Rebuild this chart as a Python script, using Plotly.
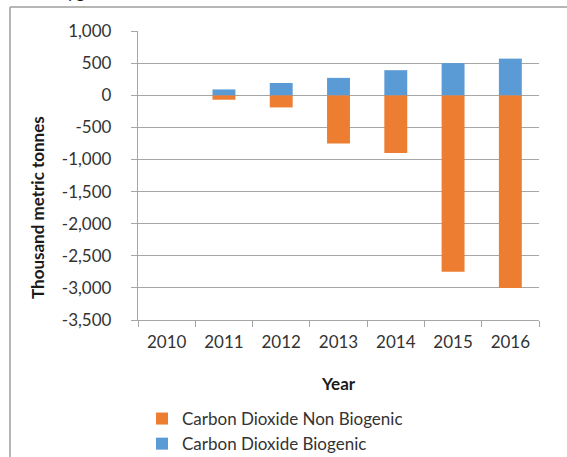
import plotly.graph_objects as go

years = ["2010", "2011", "2012", "2013", "2014", "2015", "2016"]
non_biogenic = [0, -70, -190, -750, -900, -2750, -3000]
biogenic = [0, 90, 190, 270, 390, 500, 570]
y_tickvals = [1000, 500, 0, -500, -1000, -1500, -2000, -2500, -3000, -3500]
y_ticktext = ["1,000", "500", "0", "-500", "-1,000", "-1,500", "-2,000", "-2,500", "-3,000", "-3,500"]

W, H = 567, 457
L, R, T, B = 138, 539, 31, 320
pw, ph = R - L, B - T

def px_x(x):
    return (x - L) / pw

def px_y(y):
    return (B - y) / ph

FONT = "Lato"
TXT = "#333333"
GRID = "#A6A6A6"

fig = go.Figure()
fig.add_trace(go.Bar(x=years, y=non_biogenic, name="Carbon Dioxide Non Biogenic",
                     marker=dict(color="#ED7D31", line=dict(width=0))))
fig.add_trace(go.Bar(x=years, y=biogenic, name="Carbon Dioxide Biogenic",
                     marker=dict(color="#5B9BD5", line=dict(width=0))))

fig.update_layout(
    width=W, height=H,
    margin=dict(l=L, r=W - R, t=T, b=H - B, pad=0, autoexpand=False),
    paper_bgcolor="white", plot_bgcolor="white",
    barmode="relative", bargap=0.6,
    font=dict(family=FONT, size=17, color=TXT),
    showlegend=True,
    legend=dict(orientation="v", x=px_x(142), y=px_y(401), xanchor="left", yanchor="top",
                font=dict(family=FONT, size=17, color=TXT), traceorder="normal",
                itemwidth=30, tracegroupgap=0, bgcolor="rgba(0,0,0,0)"),
    xaxis=dict(type="category", tickson="boundaries", ticks="outside", ticklen=6,
               tickcolor=GRID, showline=True, linecolor=GRID, linewidth=1.3,
               showgrid=False, tickfont=dict(family=FONT, size=17, color=TXT),
               ticklabelstandoff=6),
    yaxis=dict(range=[-3500, 1000], tickvals=y_tickvals, ticktext=y_ticktext,
               ticks="outside", ticklen=6, tickcolor=GRID, showline=True,
               linecolor=GRID, linewidth=1.3, showgrid=True, gridcolor=GRID, gridwidth=1.3,
               zeroline=True, zerolinecolor=GRID, zerolinewidth=1.3,
               tickfont=dict(family=FONT, size=17, color=TXT), ticklabelstandoff=16),
)

fig.add_annotation(text="<b>Thousand metric tonnes</b>", textangle=-90,
                   xref="paper", yref="paper", x=px_x(37), y=px_y(207),
                   xanchor="center", yanchor="middle", showarrow=False,
                   font=dict(family=FONT, size=17, color="#1a1a1a"))
fig.add_annotation(text="<b>Year</b>", xref="paper", yref="paper",
                   x=px_x(338), y=px_y(383), xanchor="center", yanchor="middle",
                   showarrow=False, font=dict(family=FONT, size=17, color="#1a1a1a"))
fig.add_annotation(text="oxygen", xref="paper", yref="paper",
                   x=px_x(46), y=px_y(4), xanchor="left", yanchor="bottom",
                   showarrow=False, font=dict(family=FONT, size=18, color="#1a1a1a"))

# chart frame (left and top edges)
fig.add_shape(type="line", xref="paper", yref="paper", x0=px_x(10), x1=px_x(10),
              y0=px_y(7), y1=px_y(460), line=dict(color="#9E9E9E", width=1.5))
fig.add_shape(type="line", xref="paper", yref="paper", x0=px_x(10), x1=px_x(570),
              y0=px_y(7), y1=px_y(7), line=dict(color="#9E9E9E", width=1.5))

fig.write_html("out.html")
